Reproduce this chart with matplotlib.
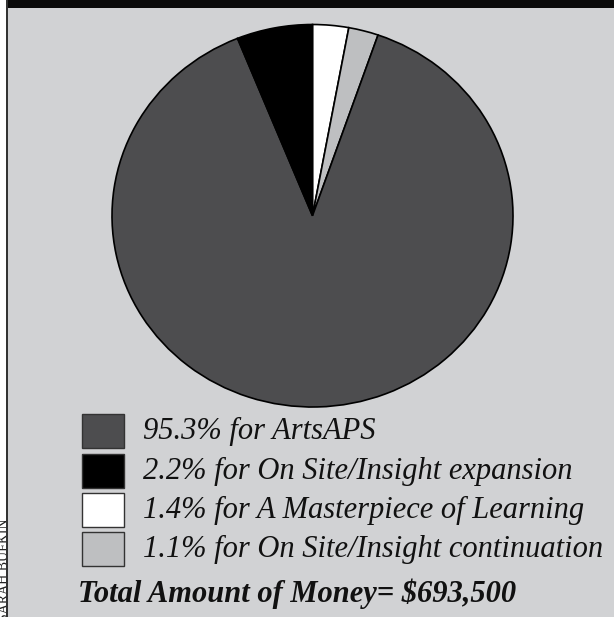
import matplotlib.pyplot as plt
from matplotlib.patches import Rectangle

# Slice sizes as drawn (in percent)
slice_names = ['A Masterpiece of Learning', 'On Site/Insight continuation',
               'ArtsAPS', 'On Site/Insight expansion']
slice_values = [2.9, 2.4, 88.6, 6.1]
slice_colors = ['#ffffff', '#bebfc1', '#4d4d4f', '#000000']

# Legend entries, in the order printed
legend_labels = ['95.3% for ArtsAPS',
                 '2.2% for On Site/Insight expansion',
                 '1.4% for A Masterpiece of Learning',
                 '1.1% for On Site/Insight continuation']
legend_colors = ['#4d4d4f', '#000000', '#ffffff', '#bebfc1']
total_text = 'Total Amount of Money= $693,500'
credit_text = 'SARAH BUFKIN'

W, H = 614, 617
fig = plt.figure(figsize=(W / 100, H / 100), dpi=100)
fig.patch.set_facecolor('white')

def px(x, y):
    return x / W, 1 - y / H

# background panels (behind the pie axes)
fig.add_artist(Rectangle(px(8, H), (W - 8) / W, (H - 8) / H,
                         transform=fig.transFigure, color='#d1d2d4', lw=0, zorder=-5))
fig.add_artist(Rectangle(px(6, 8), (W - 6) / W, 8 / H,
                         transform=fig.transFigure, color='#0a0a0a', lw=0, zorder=-4))

# photo credit along the left edge, clipped by the page and the rule
fig.text(*px(-2, 621), credit_text, family='Liberation Serif', fontsize=10,
         rotation=90, va='bottom', ha='left', color='#222222', zorder=-3)
fig.add_artist(Rectangle(px(6, H), 2 / W, 1,
                         transform=fig.transFigure, color='#333333', lw=0, zorder=-2))

# pie (drawn a touch wider than tall like the original)
left, right, top, bottom = 112, 513, 24.5, 407
ax = fig.add_axes([left / W, 1 - bottom / H, (right - left) / W, (bottom - top) / H])
ax.pie(slice_values, colors=slice_colors, startangle=90, counterclock=False,
       wedgeprops=dict(edgecolor='black', linewidth=1.2))
ax.set_aspect('auto')
ax.set_xlim(-1, 1)
ax.set_ylim(-1, 1)
ax.axis('off')

# legend boxes and labels
font = 'Liberation Serif'
row_y = [431, 471, 510, 549]
for y, lab, col in zip(row_y, legend_labels, legend_colors):
    fig.add_artist(Rectangle(px(82, y + 17), 42 / W, 34 / H,
                             transform=fig.transFigure, facecolor=col,
                             edgecolor='#333333', lw=1.0))
    fig.text(*px(143, y), lab, family=font, style='italic', fontsize=22,
             color='#111111', va='center', ha='left')

fig.text(*px(78, 594), total_text, family=font, style='italic',
         weight='bold', fontsize=22, color='#111111', va='center', ha='left')

fig.savefig('out.png', dpi=100, facecolor=fig.get_facecolor())
